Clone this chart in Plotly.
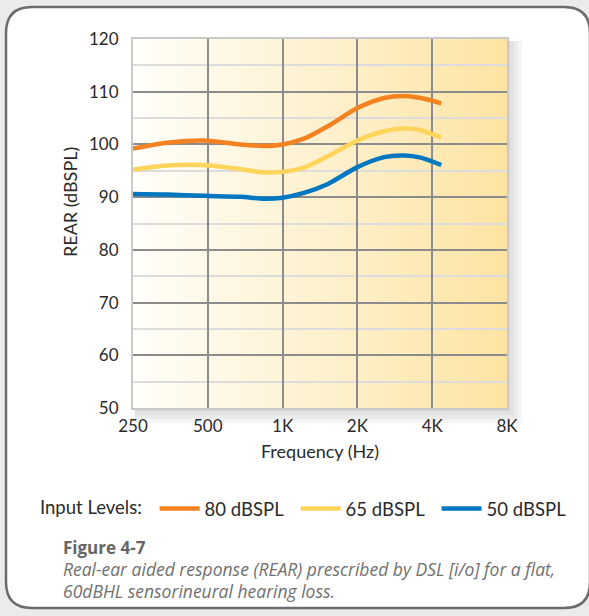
import math
import plotly.graph_objects as go

# ── Data ──────────────────────────────────────────────────────────────────────
freq_hz = [250, 343, 482, 677, 841, 1000, 1219, 1514, 2000, 2562, 3084, 3600, 4350]
rear_80 = [99.2, 100.3, 100.75, 100.0, 99.7, 100.0, 101.1, 103.4, 106.9, 108.8, 109.2, 108.8, 107.8]
rear_65 = [95.2, 96.0, 96.1, 95.3, 94.7, 94.8, 95.6, 97.7, 100.75, 102.5, 103.0, 102.7, 101.3]
rear_50 = [90.6, 90.5, 90.25, 90.06, 89.7, 89.9, 90.8, 92.45, 95.7, 97.6, 97.9, 97.5, 96.1]

series_names = ['80 dBSPL', '65 dBSPL', '50 dBSPL']
series_colors = ['#F58220', '#FFD45A', '#0077C0']

x_tickvals = [250, 500, 1000, 2000, 4000, 8000]
x_ticktext = ['250', '500', '1K', '2K', '4K', '8K']

caption_lines = ['Real-ear aided response (REAR) prescribed by DSL [i/o] for a flat,',
                 '60dBHL sensorineural hearing loss.']

FONT = 'Lato'
CAP_FONT = 'Open Sans'
TXT = '#2a2a2a'

# layout in pixels
W, H = 589, 616
L, R, T, B = 133, 82, 39, 208
pw, ph = W - L - R, H - T - B


def px2paper(x, y):
    return (x - L) / pw, (H - B - y) / ph


fig = go.Figure()
for name, ys, col in zip(series_names, [rear_80, rear_65, rear_50], series_colors):
    fig.add_trace(go.Scatter(
        x=freq_hz, y=ys, name=name, mode='lines',
        line=dict(color=col, width=4.5, shape='spline', smoothing=0.8),
    ))

shapes = []

# card with rounded corners
cx0, cy0 = px2paper(6, 7)
cx1, cy1 = px2paper(590, 608)
rx, ry = 26 / pw, 26 / ph
path = (f"M {cx0+rx},{cy0} L {cx1-rx},{cy0} Q {cx1},{cy0} {cx1},{cy0-ry} "
        f"L {cx1},{cy1+ry} Q {cx1},{cy1} {cx1-rx},{cy1} "
        f"L {cx0+rx},{cy1} Q {cx0},{cy1} {cx0},{cy1+ry} "
        f"L {cx0},{cy0-ry} Q {cx0},{cy0} {cx0+rx},{cy0} Z")
shapes.append(dict(type='path', path=path, xref='paper', yref='paper',
                   fillcolor='white', line=dict(color='#6b6b6b', width=2.5),
                   layer='below'))

# soft shadow around plot area
for i in range(4):
    d = 3 + i * 4
    sx0, sy0 = px2paper(L + 2, T + 2)
    sx1, sy1 = px2paper(L + pw + d, T + ph + d)
    shapes.append(dict(type='rect', xref='paper', yref='paper',
                       x0=sx0, x1=sx1, y0=sy0, y1=sy1, layer='below',
                       fillcolor='rgba(60,60,60,0.05)', line=dict(width=0)))

# horizontal gradient background inside the plot area
n_band = 80
c_left = (255, 254, 250)
c_right = (253, 228, 163)
for i in range(n_band):
    t = (i + 0.5) / n_band
    c = tuple(round(a + (b - a) * t) for a, b in zip(c_left, c_right))
    shapes.append(dict(type='rect', xref='x domain', yref='y domain',
                       x0=i / n_band, x1=(i + 1) / n_band + 0.002, y0=0, y1=1,
                       fillcolor=f'rgb{c}', line=dict(width=0), layer='below'))

annotations = [
    dict(text='REAR (dBSPL)', xref='paper', yref='paper',
         x=px2paper(70, 0)[0], y=px2paper(0, 202)[1], textangle=-90,
         showarrow=False, font=dict(size=18, color=TXT),
         xanchor='center', yanchor='middle'),
    dict(text='<b>Figure 4-7</b>', xref='paper', yref='paper',
         x=px2paper(61, 0)[0], y=px2paper(0, 547)[1],
         showarrow=False, font=dict(family=CAP_FONT, size=17, color='#666666'),
         xanchor='left', yanchor='middle'),
]
for k, line in enumerate(caption_lines):
    annotations.append(dict(
        text=f'<i>{line}</i>', xref='paper', yref='paper',
        x=px2paper(61, 0)[0], y=px2paper(0, 569 + 22 * k)[1],
        showarrow=False, align='left',
        font=dict(family=CAP_FONT, size=17.5, color='#707070'),
        xanchor='left', yanchor='middle'))

fig.update_layout(
    width=W, height=H,
    margin=dict(l=L, r=R, t=T, b=B),
    paper_bgcolor='#ebebeb',
    plot_bgcolor='rgba(0,0,0,0)',
    font=dict(family=FONT, size=17, color=TXT),
    shapes=shapes,
    showlegend=True,
    legend=dict(
        orientation='h',
        x=px2paper(38, 0)[0], xanchor='left',
        y=px2paper(0, 509)[1], yanchor='middle',
        title=dict(text='Input Levels: ', side='left', font=dict(size=18.5, color=TXT)),
        font=dict(size=18.5, color=TXT),
        bgcolor='rgba(0,0,0,0)',
        itemwidth=40,
        entrywidth=86,
    ),
    xaxis=dict(
        type='log', range=[math.log10(250), math.log10(8000)],
        tickvals=x_tickvals, ticktext=x_ticktext,
        showgrid=True, gridcolor='#8c8c8c', gridwidth=1.5,
        showline=True, linecolor='#c9c9c9', linewidth=2, mirror=True,
        ticks='', ticklabelstandoff=2,
        tickfont=dict(size=17, color=TXT),
        title=dict(text='Frequency (Hz)', font=dict(size=18, color=TXT), standoff=10),
        zeroline=False,
    ),
    yaxis=dict(
        range=[50, 120], dtick=10,
        showgrid=True, gridcolor='#8c8c8c', gridwidth=1.5,
        minor=dict(dtick=5, showgrid=True, gridcolor='#dcdcdc', gridwidth=1.5),
        showline=True, linecolor='#c9c9c9', linewidth=2, mirror=True,
        ticks='', ticklabelstandoff=9,
        tickfont=dict(size=17, color=TXT),
        zeroline=False,
    ),
    annotations=annotations,
)

fig.write_html("out.html", config={'displayModeBar': False},
               post_script="document.body.style.margin='0';")
